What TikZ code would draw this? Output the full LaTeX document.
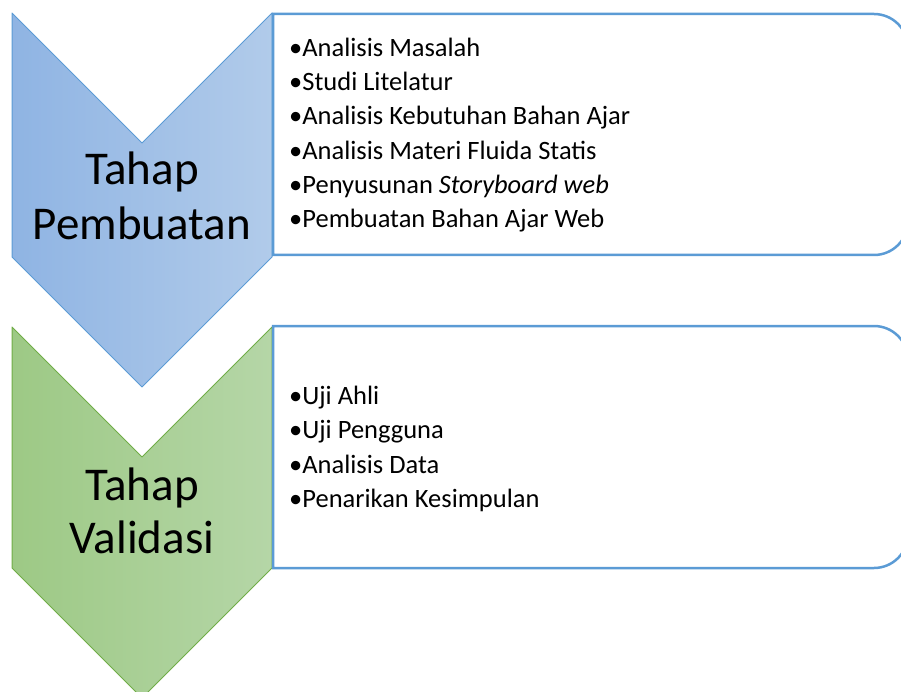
\documentclass[tikz,border=0pt]{standalone}
\usepackage{fontspec}
\setmainfont{Carlito}
\definecolor{blueL}{HTML}{8FB4E3}
\definecolor{blueR}{HTML}{B1CBEA}
\definecolor{blueS}{HTML}{5B9BD5}
\definecolor{greenL}{HTML}{9DC985}
\definecolor{greenR}{HTML}{B5D6A7}
\definecolor{greenS}{HTML}{70AD47}
\tikzset{
  chevblue/.style={left color=blueL, right color=blueR, draw=blueS, line width=1pt, line join=round},
  chevgreen/.style={left color=greenL, right color=greenR, draw=greenS, line width=1pt, line join=round},
  boxline/.style={draw=blueS, fill=white, line width=2.5pt},
  item/.style={anchor=base west, inner sep=0pt, font=\fontsize{26.5}{32}\selectfont},
  big/.style={anchor=base, inner sep=0pt, font=\fontsize{47}{55}\selectfont}
}
\begin{document}
\begin{tikzpicture}[x=1pt,y=-1pt]
\useasboundingbox (0,0) rectangle (901,692);
\clip (0,0) rectangle (901,692);
% chevrons
\path[chevblue] (12,13) -- (142,143) -- (272,13) -- (272,257) -- (142,387) -- (12,257) -- cycle;
\path[chevgreen] (12,327) -- (142,457) -- (272,327) -- (272,568) -- (142,698) -- (12,568) -- cycle;
% boxes
\path[boxline] (273,14) -- (874,14) arc[start angle=90, end angle=0, radius=34pt] -- (908,221) arc[start angle=0, end angle=-90, radius=34pt] -- (273,255) -- cycle;
\path[boxline] (273,326) -- (874,326) arc[start angle=90, end angle=0, radius=34pt] -- (908,534) arc[start angle=0, end angle=-90, radius=34pt] -- (273,568) -- cycle;
% big labels
\node[big] (t1) at (142,185) {Tahap};
\node[big] (p1) at (142,240) {Pembuatan};
\node[big] (t2) at (142,500) {Tahap};
\node[big] (v2) at (142,553) {Validasi};
% items box 1
\node[item] (a1) at (289,56.5) {•Analisis Masalah};
\node[item] (a2) at (289,90.7) {•Studi Litelatur};
\node[item] (a3) at (289,124.9) {•Analisis Kebutuhan Bahan Ajar};
\node[item] (a4) at (289,159.1) {•Analisis Materi Fluida Statis};
\node[item] (a5) at (289,193.3) {•Penyusunan \textit{Storyboard web}};
\node[item] (a6) at (289,227.5) {•Pembuatan Bahan Ajar Web};
% items box 2
\node[item] (b1) at (289,404) {•Uji Ahli};
\node[item] (b2) at (289,438.5) {•Uji Pengguna};
\node[item] (b3) at (289,473) {•Analisis Data};
\node[item] (b4) at (289,507.5) {•Penarikan Kesimpulan};
\end{tikzpicture}
\end{document}
